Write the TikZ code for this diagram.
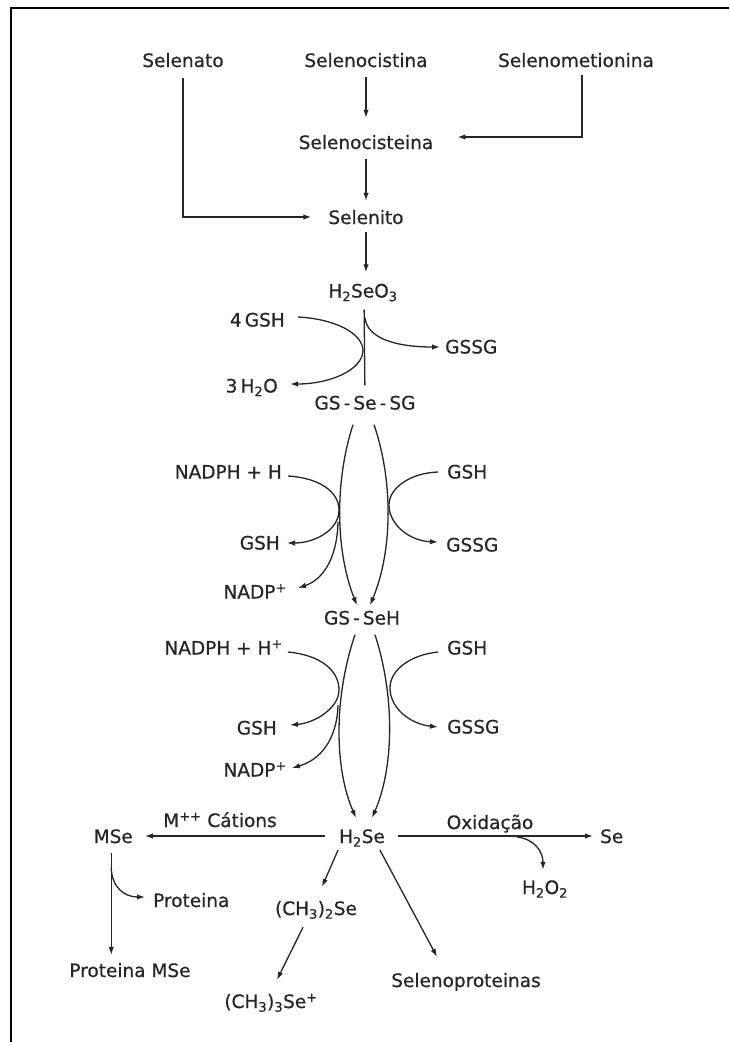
\documentclass[tikz,border=0pt]{standalone}
\usepackage{fontspec}
\setmainfont{DejaVu Sans}[FakeBold=0.6]
\usetikzlibrary{arrows.meta,calc}
\begin{document}
\begin{tikzpicture}[x=1pt,y=-1pt,
  lbl/.style={font=\fontsize{18.5}{22}\selectfont, inner sep=0pt, text height=14pt, text depth=0pt, text=black!85},
  mid/.style={font=\fontsize{18.5}{22}\selectfont, inner sep=0pt, text height=13pt, text depth=0pt, text=black!85},
  arr/.style={line width=1.3pt, draw=black!85, -{Latex[length=8pt,width=5.5pt]}},
  ln/.style={line width=1.3pt, draw=black!85},
  frameline/.style={line width=2.5pt, draw=black}]
\useasboundingbox (0,0) rectangle (729,1042);
\fill[white] (0,0) rectangle (729,1042);
\draw[frameline] (729,8) -- (11,8) -- (11,1042);

% top sources
\node[lbl] (selenato) at (183,60) {Selenato};
\node[lbl] (selenocistina) at (366,60) {Selenocistina};
\node[lbl] (selenometionina) at (576,60) {Selenometionina};
\node[lbl] (selenocisteina) at (366,142) {Selenocisteina};
\node[lbl] (selenito) at (366,217) {Selenito};
\node[mid] (h2seo3) at (363,291) {H\textsubscript{2}SeO\textsubscript{3}};
\node[mid] (gssesg) at (365,403) {GS\,-\,Se\,-\,SG};
\node[mid] (gsseh) at (362,618) {GS\,-\,SeH};
\node[lbl] (h2se) at (362,836) {H\textsubscript{2}Se};

\draw[arr, shorten <=10pt, shorten >=17pt] (selenocistina.south) -- (selenocisteina.north);
\draw[arr, shorten <=10pt, shorten >=9pt] (selenocisteina.south) -- (selenito.north);
\draw[arr, shorten <=8pt, shorten >=12pt] (selenito.south) -- (selenito.south |- h2seo3.north);
\draw[arr, shorten <=11pt, shorten >=17pt] (selenato.south) |- (selenito.west);
\draw[arr, shorten <=8pt, shorten >=24pt] ([xshift=6pt]selenometionina.south) |- ([yshift=5pt]selenocisteina.east);
\draw[ln, shorten <=12pt, shorten >=11pt] ([xshift=1pt]h2seo3.south) -- (gssesg.north);

% first reaction
\node[mid, anchor=east] (fourgsh) at (285,320) {4\,GSH};
\node[mid, anchor=east] (threeh2o) at (278,386) {3\,H\textsubscript{2}O};
\node[mid, anchor=west] (gssg1) at (445,347) {GSSG};
\coordinate (split1) at ($(h2seo3.south)+(2,20)$);
\draw[arr] ($(fourgsh.east)+(13,-3)$) .. controls (335,319) and (362,333) .. (363,350)
  .. controls (363,370) and (330,384) .. ($(threeh2o.east)+(12,-2)$);
\draw[arr] (split1) .. controls (367,338) and (395,347) .. ($(gssg1.west)+(-5,0)$);

% lens 1
\draw[arr] ($(gssesg.south)+(-12,15)$) .. controls (335,480) and (335,550) .. ($(gsseh.north)+(-5,-6)$);
\draw[arr] ($(gssesg.south)+(9,15)$) .. controls (393,480) and (393,550) .. ($(gsseh.north)+(8,-6)$);

\node[mid, anchor=east] (nadph1) at (282,472) {NADPH + H};
\node[mid, anchor=east] (gshl1) at (280,543) {GSH};
\node[mid, anchor=east] (nadp1) at (287,592) {NADP\textsuperscript{+}};
\node[mid, anchor=west] (gshr1) at (447,472) {GSH};
\node[mid, anchor=west] (gssgr1) at (446,545) {GSSG};
\coordinate (b1) at (338,522);
\draw[arr] ($(nadph1.east)+(6,4)$) .. controls (320,478) and (339,492) .. (339,510)
  .. controls (339,530) and (315,543) .. ($(gshl1.east)+(7,0)$);
\draw[arr] (b1) .. controls (337,560) and (322,580) .. ($(nadp1.east)+(11,-4)$);
\draw[arr] ($(gshr1.west)+(-9,0)$) .. controls (410,473) and (389,488) .. (389,505)
  .. controls (389,525) and (410,541) .. ($(gssgr1.west)+(-8,-3)$);

% lens 2
\draw[arr] ($(gsseh.south)+(-7,10)$) .. controls (333,700) and (335,770) .. ($(h2se.north)+(-6,-11)$);
\draw[arr] ($(gsseh.south)+(13,10)$) .. controls (396,700) and (393,770) .. ($(h2se.north)+(10,-11)$);

\node[mid, anchor=east] (nadph2) at (283,648) {NADPH + H\textsuperscript{+}};
\node[mid, anchor=east] (gshl2) at (277,728) {GSH};
\node[mid, anchor=east] (nadp2) at (287,770) {NADP\textsuperscript{+}};
\node[mid, anchor=west] (gshr2) at (447,648) {GSH};
\node[mid, anchor=west] (gssgr2) at (447,727) {GSSG};
\coordinate (b2) at (338,705);
\draw[arr] ($(nadph2.east)+(5,4)$) .. controls (320,655) and (339,670) .. (339,690)
  .. controls (339,708) and (315,723) .. ($(gshl2.east)+(13,-3)$);
\draw[arr] (b2) .. controls (337,740) and (320,760) .. ($(nadp2.east)+(5,-2)$);
\draw[arr] ($(gshr2.west)+(-9,4)$) .. controls (410,655) and (390,670) .. (390,688)
  .. controls (390,708) and (410,724) .. ($(gssgr2.west)+(-9,0)$);

% bottom
\node[lbl, anchor=east] (mse) at (133,836) {MSe};
\node[lbl] (cations) at (220,820) {M\textsuperscript{++} Cátions};
\node[lbl, anchor=west] (se) at (600,836) {Se};
\node[lbl] (oxid) at (490,822) {Oxidação};
\node[lbl] (h2o2) at (545,887) {H\textsubscript{2}O\textsubscript{2}};
\node[lbl, anchor=west] (prot) at (153,900) {Proteina};
\node[lbl] (protmse) at (130,970) {Proteina MSe};
\node[lbl] (ch32) at (316,908) {(CH\textsubscript{3})\textsubscript{2}Se};
\node[lbl] (ch33) at (271,1001) {(CH\textsubscript{3})\textsubscript{3}Se\textsuperscript{+}};
\node[lbl] (selprot) at (466,980) {Selenoproteinas};

\draw[arr, shorten <=14pt, shorten >=12pt] (h2se.west) -- (mse.east);
\draw[arr, shorten <=13pt, shorten >=7pt] (h2se.east) -- (se.west);
\coordinate (ox) at (517,837);
\draw[arr] (ox) .. controls (535,839) and (543,852) .. ($(h2o2.north)+(-2,-10)$);
\draw[arr, shorten <=10pt, shorten >=8pt] ([xshift=-2pt]mse.south) -- ([xshift=-2pt]mse.south |- protmse.north);
\draw[arr] ($(mse.south)+(-2,25)$) .. controls (112,888) and (125,897) .. ($(prot.west)+(-8,-3)$);
\draw[arr] ($(h2se.south)+(-24,7)$) -- ($(ch32.north)+(6,-14)$);
\draw[arr] ($(ch32.south)+(-13,12)$) -- ($(ch33.north)+(6,-14)$);
\draw[arr] ($(h2se.south)+(18,7)$) -- ($(selprot.north)+(-29,-16)$);
\end{tikzpicture}
\end{document}
